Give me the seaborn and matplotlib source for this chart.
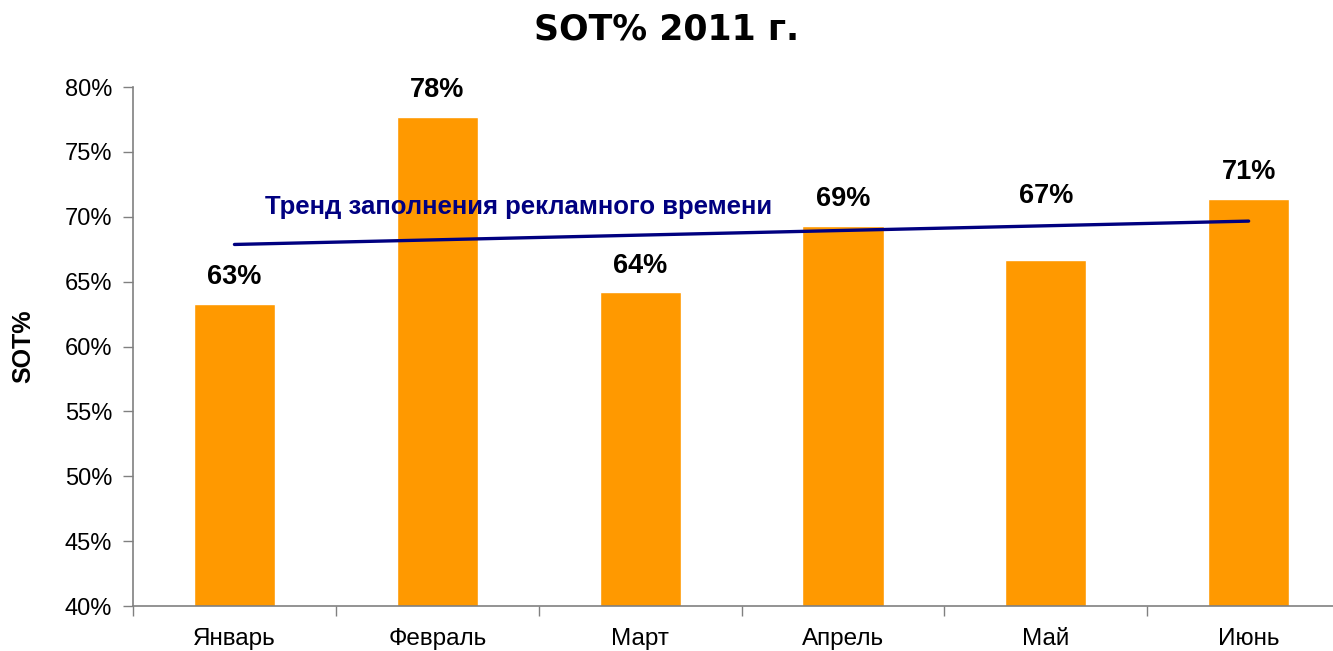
import numpy as np
import pandas as pd
import seaborn as sns
import matplotlib.pyplot as plt
from matplotlib.ticker import FuncFormatter

months = ["Январь", "Февраль", "Март", "Апрель", "Май", "Июнь"]
sot = [63.3, 77.7, 64.2, 69.3, 66.7, 71.4]
labels = ["63%", "78%", "64%", "69%", "67%", "71%"]

df = pd.DataFrame({"month": months, "sot": sot})

sns.set_style("white")
plt.rcParams["font.family"] = ["Liberation Sans", "DejaVu Sans"]
plt.rcParams["text.color"] = "black"
plt.rcParams["xtick.color"] = "black"
plt.rcParams["ytick.color"] = "black"

fig = plt.figure(figsize=(13.33, 6.51), dpi=100)
ax = fig.add_axes([0.0998, 0.0691, 0.913, 0.7972])

sns.barplot(data=df, x="month", y="sot", color="#FF9900", saturation=1,
            width=0.4, ax=ax)

# линейный тренд
x = np.arange(len(sot))
k, b = np.polyfit(x, sot, 1)
ax.plot(x, k * x + b, color="#000080", lw=2.4, solid_capstyle="round")
ax.text(0.15, 70.75, "Тренд заполнения рекламного времени", color="#000080",
        fontsize=18.5, fontweight="bold", va="center", ha="left")

# подпись "Май" поднята над линией тренда
extra = {4: 27}
for i, (v, t) in enumerate(zip(sot, labels)):
    ax.annotate(t, (i, v), xytext=(0, 19 + extra.get(i, 0)),
                textcoords="offset points", ha="center", va="center",
                fontsize=19.5, fontweight="bold", color="black")

ax.set_ylim(40, 80)
ax.set_xlim(-0.5, 5.5)
ax.set_yticks(range(40, 81, 5))
ax.yaxis.set_major_formatter(FuncFormatter(lambda v, p: f"{v:.0f}%"))
ax.set_xticks(np.arange(-0.5, 6, 1), minor=True)
ax.tick_params(axis="x", which="major", length=0, pad=16, labelsize=17.5)
ax.tick_params(axis="x", which="minor", length=7, width=1, color="#808080",
               direction="out", bottom=True)
ax.tick_params(axis="y", length=7, width=1, color="#808080", direction="out",
               left=True, labelsize=17, pad=8)

for s in ["top", "right"]:
    ax.spines[s].set_visible(False)
for s in ["left", "bottom"]:
    ax.spines[s].set_color("#808080")
    ax.spines[s].set_linewidth(1.2)

ax.set_xlabel("")
ax.set_ylabel("SOT%", fontsize=18, fontweight="bold", color="black")
ax.yaxis.set_label_coords(-0.08, 0.5)

fig.text(0.5, 0.955, "SOT% 2011 г.", ha="center", va="center", fontsize=25,
         fontweight="bold", family=["DejaVu Sans"], color="black")

fig.savefig("out.png", dpi=100)
